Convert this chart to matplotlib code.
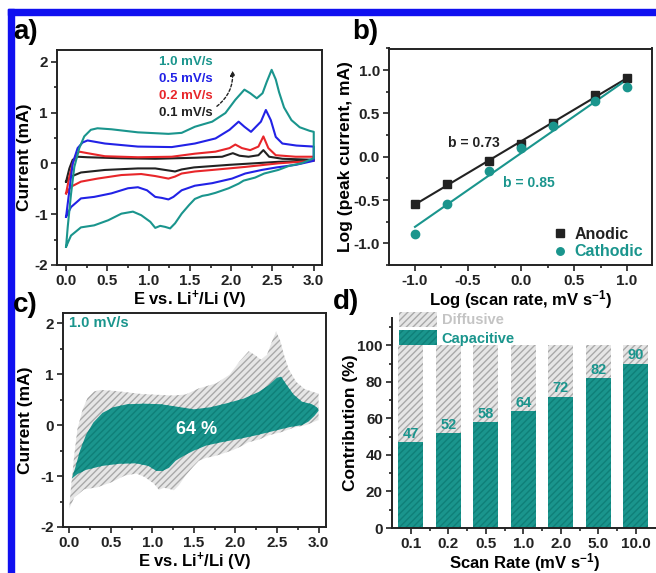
import numpy as np
import matplotlib
matplotlib.use("Agg")
import matplotlib.pyplot as plt
from matplotlib.patches import Rectangle, Patch

plt.rcParams['font.family'] = ['Liberation Sans', 'DejaVu Sans']
plt.rcParams['font.weight'] = 'bold'
plt.rcParams['axes.labelweight'] = 'bold'
plt.rcParams['mathtext.fontset'] = 'custom'
plt.rcParams['mathtext.rm'] = 'Liberation Sans:bold'
plt.rcParams['mathtext.bf'] = 'Liberation Sans:bold'
plt.rcParams['mathtext.default'] = 'bf'
plt.rcParams['axes.unicode_minus'] = False
plt.rcParams['hatch.linewidth'] = 1.0

TEAL = '#1a958d'
BLUE = '#2222e6'
RED = '#e8262a'
BLACK = '#222222'
GRAY_FACE = '#e6e6e6'
GRAY_HATCH = '#a9a9a9'

# ---- panel a: CV curves (E in V, current in mA) ----
e_up_10 = [0.0, 0.02, 0.06, 0.1, 0.16, 0.22, 0.3, 0.38, 0.55, 0.87, 1.24, 1.4, 1.56, 1.77, 1.93, 2.05,
           2.16, 2.23, 2.31, 2.38, 2.43, 2.49, 2.54, 2.58, 2.64, 2.73, 2.83, 2.95, 3.0]
i_up_10 = [-1.64, -1.25, -0.6, -0.07, 0.3, 0.53, 0.66, 0.69, 0.67, 0.61, 0.58, 0.6, 0.72, 0.82, 0.99, 1.25,
           1.45, 1.38, 1.28, 1.38, 1.6, 1.84, 1.65, 1.4, 1.1, 0.85, 0.71, 0.64, 0.62]
e_dn_10 = [3.0, 2.85, 2.7, 2.57, 2.4, 2.29, 2.15, 2.09, 1.97, 1.81, 1.72, 1.65, 1.56, 1.49, 1.4, 1.32,
           1.26, 1.2, 1.14, 1.08, 1.02, 0.91, 0.81, 0.67, 0.51, 0.34, 0.18, 0.06, 0.0]
i_dn_10 = [0.1, 0.0, -0.05, -0.13, -0.2, -0.28, -0.34, -0.4, -0.49, -0.58, -0.62, -0.64, -0.7, -0.82, -0.99, -1.18,
           -1.28, -1.25, -1.23, -1.27, -1.15, -1.02, -0.95, -0.99, -1.12, -1.22, -1.26, -1.42, -1.64]

e_up_05 = [0.0, 0.04, 0.08, 0.14, 0.2, 0.26, 0.47, 0.87, 1.28, 1.44, 1.56, 1.81, 1.98, 2.09, 2.16, 2.24,
           2.36, 2.42, 2.48, 2.54, 2.62, 2.79, 3.0]
i_up_05 = [-1.05, -0.53, 0.0, 0.3, 0.41, 0.45, 0.39, 0.33, 0.32, 0.36, 0.39, 0.49, 0.66, 0.82, 0.72, 0.62,
           0.82, 1.05, 0.85, 0.52, 0.39, 0.35, 0.33]
e_dn_05 = [3.0, 2.78, 2.55, 2.37, 2.17, 2.01, 1.77, 1.56, 1.4, 1.3, 1.24, 1.16, 1.08, 0.98, 0.87, 0.75,
           0.55, 0.34, 0.18, 0.06, 0.0]
i_dn_05 = [0.05, -0.03, -0.08, -0.13, -0.2, -0.3, -0.39, -0.44, -0.53, -0.66, -0.71, -0.68, -0.66, -0.53, -0.47, -0.49,
           -0.59, -0.66, -0.69, -0.86, -1.05]

e_up_02 = [0.0, 0.04, 0.08, 0.12, 0.16, 0.26, 0.47, 0.87, 1.28, 1.56, 1.81, 1.98, 2.05, 2.13, 2.23, 2.33,
           2.39, 2.45, 2.54, 2.78, 3.0]
i_up_02 = [-0.59, -0.26, 0.0, 0.16, 0.23, 0.2, 0.14, 0.12, 0.13, 0.19, 0.23, 0.3, 0.37, 0.3, 0.26, 0.33,
           0.53, 0.3, 0.16, 0.13, 0.13]
e_dn_02 = [3.0, 2.57, 2.17, 1.77, 1.56, 1.4, 1.32, 1.24, 1.08, 0.91, 0.67, 0.38, 0.18, 0.06, 0.0]
i_dn_02 = [0.05, 0.0, -0.07, -0.13, -0.16, -0.2, -0.26, -0.3, -0.25, -0.21, -0.23, -0.3, -0.36, -0.46, -0.59]

e_up_01 = [0.0, 0.04, 0.08, 0.14, 0.26, 0.67, 1.08, 1.56, 1.89, 2.02, 2.1, 2.21, 2.33, 2.39, 2.46, 2.62, 3.0]
i_up_01 = [-0.36, -0.1, 0.07, 0.13, 0.12, 0.1, 0.09, 0.11, 0.13, 0.2, 0.15, 0.13, 0.16, 0.26, 0.13, 0.09, 0.07]
e_dn_01 = [3.0, 2.57, 1.97, 1.55, 1.4, 1.32, 1.24, 1.08, 0.87, 0.47, 0.18, 0.06, 0.0]
i_dn_01 = [0.05, 0.03, -0.03, -0.08, -0.12, -0.16, -0.14, -0.1, -0.1, -0.13, -0.18, -0.26, -0.36]

# ---- panel b: log peak current vs log scan rate ----
log_rate = [-1.0, -0.699, -0.301, 0.0, 0.301, 0.699, 1.0]
log_anodic = [-0.55, -0.31, -0.05, 0.15, 0.39, 0.71, 0.91]
log_cathodic = [-0.89, -0.55, -0.17, 0.10, 0.35, 0.64, 0.81]

# ---- panel c: capacitive region at 1.0 mV/s ----
e_cap_up = [0.03, 0.07, 0.13, 0.2, 0.29, 0.4, 0.53, 0.7, 0.9, 1.1, 1.3, 1.5, 1.7, 1.9, 2.1, 2.28,
            2.4, 2.5, 2.55, 2.62, 2.7, 2.8, 2.92, 2.98, 3.0]
i_cap_up = [-1.05, -0.85, -0.5, -0.2, 0.05, 0.24, 0.35, 0.41, 0.42, 0.41, 0.36, 0.31, 0.35, 0.43, 0.52, 0.65,
            0.78, 0.93, 0.95, 0.78, 0.6, 0.46, 0.41, 0.35, 0.3]
e_cap_dn = [3.0, 2.95, 2.88, 2.8, 2.65, 2.45, 2.25, 2.05, 1.85, 1.65, 1.5, 1.38, 1.28, 1.2, 1.12, 1.05,
            0.95, 0.8, 0.6, 0.4, 0.2, 0.1, 0.03]
i_cap_dn = [0.28, 0.18, 0.07, 0.0, -0.04, -0.12, -0.2, -0.27, -0.33, -0.4, -0.5, -0.6, -0.7, -0.84, -0.9, -0.9,
            -0.8, -0.75, -0.76, -0.8, -0.88, -0.96, -1.05]

# ---- panel d: contribution bars ----
rates = ['0.1', '0.2', '0.5', '1.0', '2.0', '5.0', '10.0']
capacitive = [47, 52, 58, 64, 72, 82, 90]

W, H = 656, 573
fig = plt.figure(figsize=(W / 100, H / 100), dpi=100)


def box(l, r, t, b):
    return [l / W, 1 - b / H, (r - l) / W, (b - t) / H]


def style(ax, right_top=True):
    for s in ax.spines.values():
        s.set_linewidth(1.4)
        s.set_color(BLACK)
    if not right_top:
        ax.spines['top'].set_visible(False)
        ax.spines['right'].set_visible(False)
    ax.tick_params(which='both', direction='out', width=1.2, colors=BLACK, labelsize=11)
    ax.tick_params(which='major', length=4, pad=2.5)
    ax.tick_params(which='minor', length=2.5)
    ax.tick_params(top=False, right=False)
    for lab in ax.get_xticklabels() + ax.get_yticklabels():
        lab.set_fontweight('bold')


def labels(ax, xl, yl, xy, yx):
    ax.set_xlabel(xl, fontsize=12)
    ax.set_ylabel(yl, fontsize=12.5)
    ax.xaxis.label.set_verticalalignment('center')
    ax.yaxis.label.set_verticalalignment('center')
    ax.xaxis.set_label_coords(0.5, xy)
    ax.yaxis.set_label_coords(yx, 0.5)


# panel a
ax = fig.add_axes(box(57, 322, 50, 265))
ax.plot(e_up_01 + e_dn_01, i_up_01 + i_dn_01, color=BLACK, lw=1.5)
ax.plot(e_up_02 + e_dn_02, i_up_02 + i_dn_02, color=RED, lw=1.5)
ax.plot(e_up_05 + e_dn_05, i_up_05 + i_dn_05, color=BLUE, lw=1.5)
ax.plot(e_up_10 + e_dn_10, i_up_10 + i_dn_10, color=TEAL, lw=1.5)
ax.set_xlim(-0.11, 3.1)
ax.set_ylim(-2, 2.23)
ax.set_xticks(np.arange(0, 3.01, 0.5))
ax.set_xticks(np.arange(0, 3.01, 0.25), minor=True)
ax.set_yticks([-2, -1, 0, 1, 2])
ax.set_yticks(np.arange(-2, 2.01, 0.5), minor=True)
labels(ax, 'E vs. Li$^{+}$/Li (V)', 'Current (mA)', -0.16, -0.121)
style(ax)
for txt, col, yy in [('1.0 mV/s', TEAL, 2.0), ('0.5 mV/s', BLUE, 1.66),
                     ('0.2 mV/s', RED, 1.33), ('0.1 mV/s', BLACK, 1.0)]:
    ax.text(1.13, yy, txt, color=col, fontsize=9.5, fontweight='bold', va='center')
ax.annotate('', xy=(2.01, 1.88), xytext=(1.8, 1.09),
            arrowprops=dict(arrowstyle='-|>', color=BLACK, lw=1.0, ls=(0, (2, 1.5)),
                            connectionstyle='arc3,rad=0.3', mutation_scale=7))

# panel b
ax = fig.add_axes(box(389, 652, 48.5, 265))
xs = np.array([-1.0, 1.0])
pa = np.polyfit(log_rate, log_anodic, 1)
pc = np.polyfit(log_rate, log_cathodic, 1)
ax.plot(xs, np.polyval(pa, xs), color=BLACK, lw=1.5)
ax.plot(xs, np.polyval(pc, xs), color=TEAL, lw=1.5)
ax.plot(log_rate, log_anodic, 's', color=BLACK, ms=6, label='Anodic')
ax.plot(log_rate, log_cathodic, 'o', color=TEAL, ms=6, label='Cathodic')
ax.set_xlim(-1.245, 1.235)
ax.set_ylim(-1.25, 1.25)
ax.set_xticks(np.arange(-1, 1.01, 0.5))
ax.set_xticks(np.arange(-1, 1.01, 0.25), minor=True)
ax.set_yticks(np.arange(-1, 1.01, 0.5))
ax.set_yticks(np.arange(-1.25, 1.26, 0.25), minor=True)
labels(ax, 'Log (scan rate, mV s$^{-1}$)', 'Log (peak current, mA)', -0.16, -0.167)
style(ax)
ax.text(-0.69, 0.16, 'b = %.2f' % pa[0], color=BLACK, fontsize=10, fontweight='bold', va='center')
ax.text(-0.17, -0.30, 'b = %.2f' % pc[0], color=TEAL, fontsize=10, fontweight='bold', va='center')
leg = ax.legend(loc='lower right', bbox_to_anchor=(1.02, -0.04), frameon=False, fontsize=11.5,
                handletextpad=0.3, labelspacing=0.15, handlelength=1.2, markerscale=0.9)
for t, c in zip(leg.get_texts(), [BLACK, TEAL]):
    t.set_color(c)
    t.set_fontweight('bold')

# panel c
ax = fig.add_axes(box(63, 326, 313, 527))
ax.fill(e_up_10 + e_dn_10, i_up_10 + i_dn_10, facecolor=GRAY_FACE, edgecolor=GRAY_HATCH,
        hatch='/////', lw=0)
ax.fill(e_cap_up + e_cap_dn, i_cap_up + i_cap_dn, facecolor=TEAL, edgecolor='#0f7f78',
        hatch='/////', lw=0)
ax.set_xlim(-0.075, 3.09)
ax.set_ylim(-2, 2.2)
ax.set_xticks(np.arange(0, 3.01, 0.5))
ax.set_xticks(np.arange(0, 3.01, 0.25), minor=True)
ax.set_yticks([-2, -1, 0, 1, 2])
ax.set_yticks(np.arange(-2, 2.01, 0.5), minor=True)
labels(ax, 'E vs. Li$^{+}$/Li (V)', 'Current (mA)', -0.165, -0.144)
style(ax)
ax.text(0.0, 2.0, '1.0 mV/s', color=TEAL, fontsize=10.5, fontweight='bold', va='center')
ax.text(1.53, -0.08, '64 %', color='white', fontsize=13, fontweight='bold', va='center', ha='center')

# panel d
ax = fig.add_axes(box(392, 656, 318, 528))
pos = np.arange(len(rates))
diffusive = [100 - v for v in capacitive]
ax.bar(pos, capacitive, width=0.667, color=TEAL, edgecolor='#0f7f78', hatch='/////', lw=0)
ax.bar(pos, diffusive, bottom=capacitive, width=0.667, color=GRAY_FACE, edgecolor=GRAY_HATCH,
       hatch='/////', lw=0)
for p, v in zip(pos, capacitive):
    ax.text(p, v + 0.8, str(v), color=TEAL, fontsize=10.5, fontweight='bold', ha='center', va='bottom')
ax.set_xlim(-0.5, 6.54)
ax.set_ylim(0, 115)
ax.set_xticks(pos)
ax.set_xticklabels(rates)
ax.set_xticks(pos[:-1] + 0.5, minor=True)
ax.set_yticks(np.arange(0, 101, 20))
ax.set_yticks(np.arange(0, 111, 10), minor=True)
labels(ax, 'Scan Rate (mV s$^{-1}$)', 'Contribution (%)', -0.165, -0.159)
style(ax, right_top=False)
handles = [Patch(facecolor=GRAY_FACE, edgecolor=GRAY_HATCH, hatch='/////', lw=0),
           Patch(facecolor=TEAL, edgecolor='#0f7f78', hatch='/////', lw=0)]
leg = ax.legend(handles, ['Diffusive', 'Capacitive'], loc='upper left', bbox_to_anchor=(-0.005, 1.07),
                frameon=False, fontsize=10.5, handlelength=2.6, handleheight=1.2,
                handletextpad=0.3, labelspacing=0.2, borderaxespad=0.2)
for t, c in zip(leg.get_texts(), ['#c4c4c4', TEAL]):
    t.set_color(c)
    t.set_fontweight('bold')

# panel letters
for txt, x, y in [('a)', 13, 32), ('b)', 352, 32), ('c)', 13, 305), ('d)', 333, 302)]:
    fig.text(x / W, 1 - y / H, txt, fontsize=20, fontweight='bold', va='center', ha='left')

# blue frame
fig.patches.append(Rectangle((8 / W, 0), 6 / W, 1 - 9 / H, transform=fig.transFigure,
                             color='#1010f0', zorder=0))
fig.patches.append(Rectangle((8 / W, 1 - 15 / H), 1, 6 / H, transform=fig.transFigure,
                             color='#1010f0', zorder=0))

fig.savefig('out.png', dpi=100)
